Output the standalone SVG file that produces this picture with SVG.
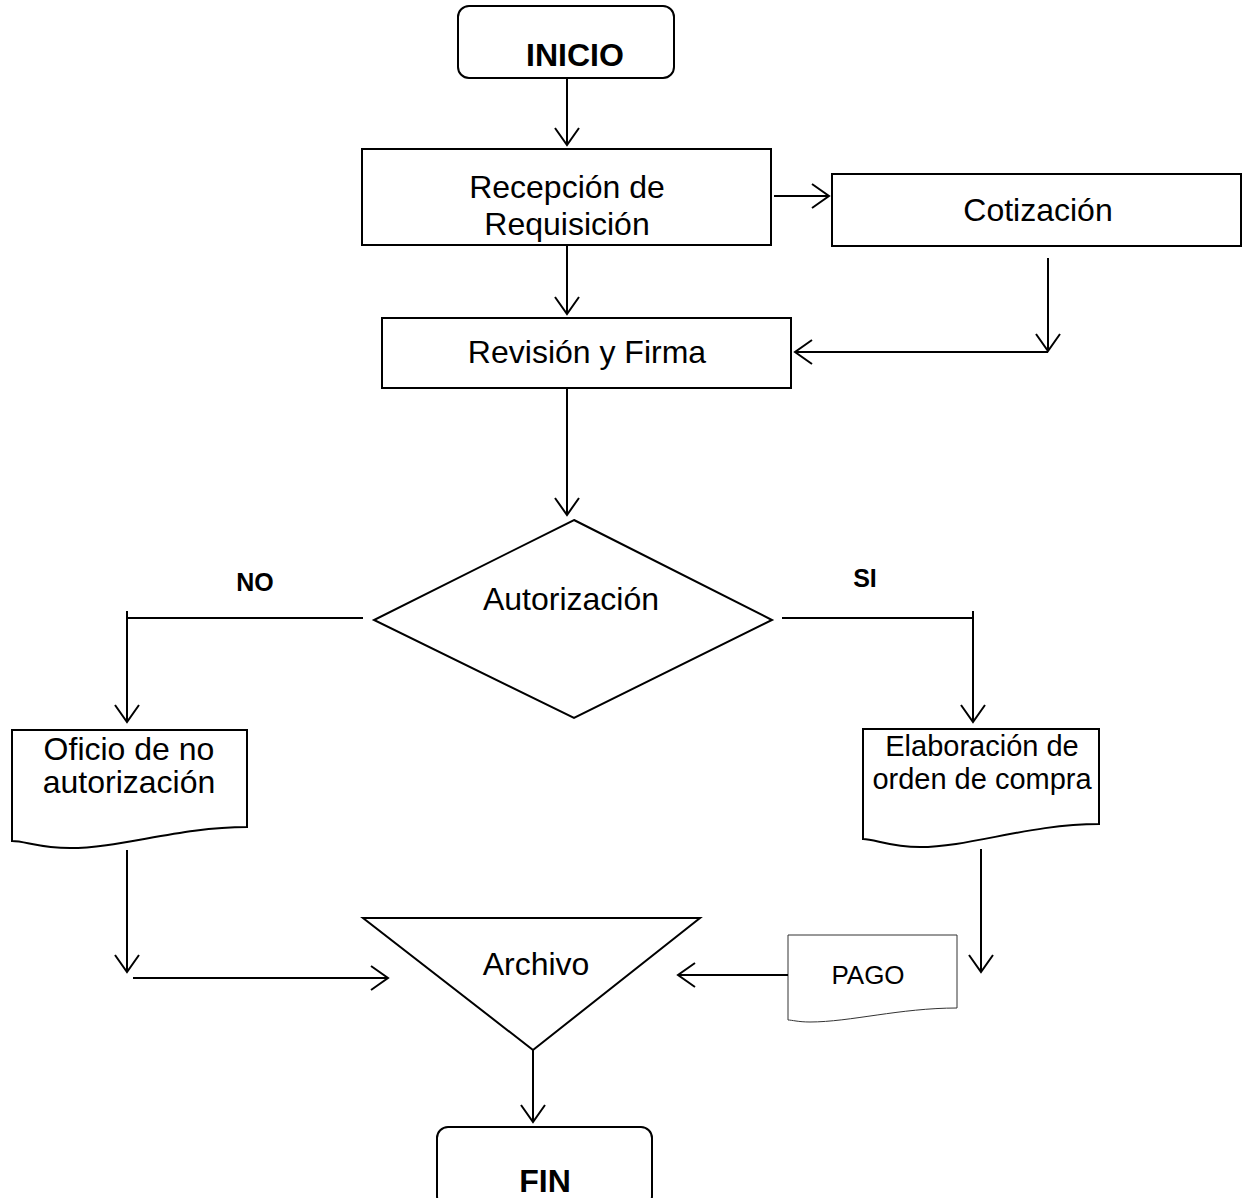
<svg xmlns="http://www.w3.org/2000/svg" width="1246" height="1198" viewBox="0 0 1246 1198">
<style>
.s{fill:#fff;stroke:#000;stroke-width:2}
.c{fill:none;stroke:#000;stroke-width:2}
.t{font-family:"Liberation Sans",Arial,sans-serif;font-size:32px;text-anchor:middle;fill:#000}
.b{font-weight:bold}
.l{font-size:25px}
.d{font-size:29px}
</style>
<defs>
<marker id="a" markerUnits="userSpaceOnUse" markerWidth="22" markerHeight="28" viewBox="0 0 22 28" refX="19" refY="14" orient="auto">
<path d="M2,2 L19,14 L2,26" fill="none" stroke="#000" stroke-width="2"/>
</marker>
</defs>
<rect width="1246" height="1198" fill="#fff"/>
<g id="inicio"><rect class="s" x="458" y="6" width="216" height="72" rx="11"/><text class="t b" x="575" y="66">INICIO</text></g>
<g id="recepcion"><rect class="s" x="362" y="149" width="409" height="96"/><text class="t" x="567" y="198">Recepción de</text><text class="t" x="567" y="235">Requisición</text></g>
<g id="cotizacion"><rect class="s" x="832" y="174" width="409" height="72"/><text class="t" x="1038" y="221">Cotización</text></g>
<g id="revision"><rect class="s" x="382" y="318" width="409" height="70"/><text class="t" x="587" y="363">Revisión y Firma</text></g>
<g id="autorizacion"><polygon class="s" points="574,520 772,620 574,718 374,620"/><text class="t" x="571" y="610">Autorización</text></g>
<g id="oficio"><path class="s" d="M12,730 L247,730 L247,827 C180,827 120,848 70,848 C40,848 25,841 12,841 Z"/><text class="t" x="129" y="760">Oficio de no</text><text class="t" x="129" y="793">autorización</text></g>
<g id="elaboracion"><path class="s" d="M863,729 L1099,729 L1099,824 C1030,824 970,847 920,847 C890,847 875,839 863,839 Z"/><text class="t d" x="982" y="756">Elaboración de</text><text class="t d" x="982" y="789">orden de compra</text></g>
<g id="archivo"><polygon class="s" points="363,918 700,918 533,1050"/><text class="t" x="536" y="975">Archivo</text></g>
<g id="pago"><path d="M788,935 L957,935 L957,1008 C900,1008 850,1022 810,1022 C798,1022 792,1020 788,1020 Z" fill="#fff" stroke="#333" stroke-width="1"/><text class="t" x="868" y="984" style="font-size:26px">PAGO</text></g>
<g id="fin"><rect class="s" x="437" y="1127" width="215" height="80" rx="11"/><text class="t b" x="545" y="1192">FIN</text></g>
<g id="labels"><text class="t b l" x="255" y="591">NO</text><text class="t b l" x="865" y="587">SI</text></g>
<g id="connectors" class="c">
<line x1="567" y1="78" x2="567" y2="145" marker-end="url(#a)"/>
<line x1="774" y1="196" x2="829" y2="196" marker-end="url(#a)"/>
<line x1="567" y1="245" x2="567" y2="314" marker-end="url(#a)"/>
<line x1="1048" y1="258" x2="1048" y2="351" marker-end="url(#a)"/>
<line x1="1048" y1="352" x2="795" y2="352" marker-end="url(#a)"/>
<line x1="567" y1="388" x2="567" y2="515" marker-end="url(#a)"/>
<line x1="363" y1="618" x2="127" y2="618"/>
<line x1="127" y1="611" x2="127" y2="722" marker-end="url(#a)"/>
<line x1="782" y1="618" x2="973" y2="618"/>
<line x1="973" y1="611" x2="973" y2="722" marker-end="url(#a)"/>
<line x1="127" y1="850" x2="127" y2="972" marker-end="url(#a)"/>
<line x1="133" y1="978" x2="388" y2="978" marker-end="url(#a)"/>
<line x1="981" y1="849" x2="981" y2="972" marker-end="url(#a)"/>
<line x1="788" y1="975" x2="678" y2="975" marker-end="url(#a)"/>
<line x1="533" y1="1050" x2="533" y2="1122" marker-end="url(#a)"/>
</g>
</svg>
